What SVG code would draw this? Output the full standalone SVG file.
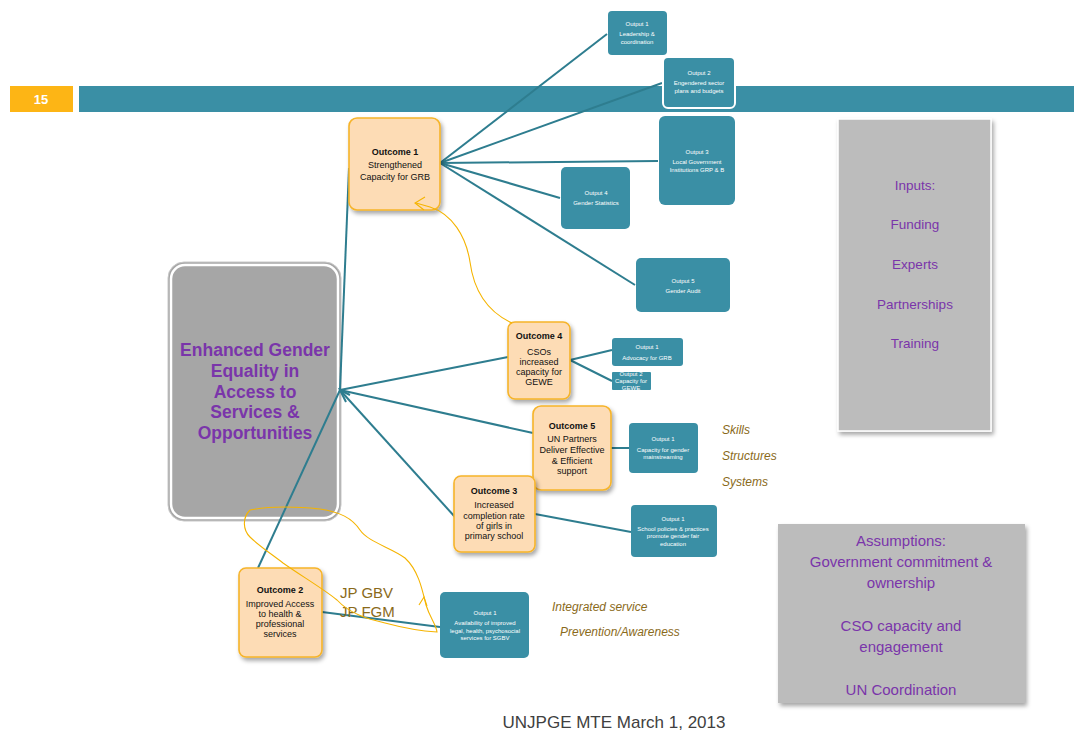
<svg xmlns="http://www.w3.org/2000/svg" width="1074" height="731" viewBox="0 0 1074 731">
<defs>
<filter id="sh" x="-20%" y="-20%" width="150%" height="150%">
<feDropShadow dx="2" dy="3" stdDeviation="2" flood-color="#000" flood-opacity="0.35"/>
</filter>
<style>
text{font-family:"Liberation Sans",Arial,sans-serif;}
.out{fill:#3a8fa5;}
.ot{fill:#ffffff;font-size:6px;text-anchor:middle;}
.oc{fill:#fddcb5;stroke:#f6b42a;stroke-width:1.6;filter:url(#sh);}
.oct{fill:#111;font-size:9px;text-anchor:middle;}
.b{font-weight:bold;}
.ln{stroke:#2e7d8f;stroke-width:2;fill:none;}
.hd{stroke:#f5b400;stroke-width:1.1;fill:none;}
.pur{fill:#7a35aa;text-anchor:middle;}
.ol{fill:#8a6a1a;font-style:italic;font-size:12px;}
</style>
</defs>
<rect width="1074" height="731" fill="#ffffff"/>
<g id="header">
<rect x="10" y="86" width="63" height="26" fill="#fdb515"/>
<text x="41" y="104" fill="#fff" font-size="13" font-weight="bold" text-anchor="middle">15</text>
<rect x="79" y="86" width="995" height="26" fill="#3a8fa5"/>
</g>
<g id="goal">
<rect x="168" y="262" width="173" height="259" rx="16" fill="#a6a6a6" stroke="#c8c8c8" stroke-width="1"/>
<rect x="171" y="265" width="167" height="253" rx="14" fill="#a6a6a6" stroke="#ffffff" stroke-width="2.5"/>
<g font-size="17.5" font-weight="bold">
<text class="pur" x="255" y="356">Enhanced Gender</text>
<text class="pur" x="255" y="377">Equality in</text>
<text class="pur" x="255" y="398">Access to</text>
<text class="pur" x="255" y="418">Services &amp;</text>
<text class="pur" x="255" y="439">Opportunities</text></g>
</g>
<g id="connectors">
<line class="ln" x1="440" y1="163" x2="607" y2="34"/>
<line class="ln" x1="440" y1="163" x2="662" y2="83"/>
<line class="ln" x1="440" y1="163" x2="658" y2="161"/>
<line class="ln" x1="440" y1="163" x2="560" y2="198"/>
<line class="ln" x1="440" y1="163" x2="635" y2="285"/>
<line class="ln" x1="340" y1="390" x2="349" y2="168"/>
<line class="ln" x1="508" y1="357" x2="340" y2="390"/>
<line class="ln" x1="533" y1="433" x2="340" y2="390"/>
<line class="ln" x1="455" y1="517" x2="340" y2="390"/>
<line class="ln" x1="258" y1="568" x2="340" y2="390"/>
<polyline class="ln" points="350,395 340,390 346,402"/>
<line class="ln" x1="570" y1="360" x2="612" y2="350"/>
<line class="ln" x1="570" y1="360" x2="612" y2="381"/>
<line class="ln" x1="611" y1="448" x2="629" y2="448"/>
<line class="ln" x1="535" y1="514" x2="631" y2="532"/>
<line class="ln" x1="322" y1="612" x2="440" y2="627"/>
</g>
<g id="outcome1"><rect class="oc" x="349" y="118" width="91" height="92" rx="8"/>
<text class="oct b" x="395" y="155">Outcome 1</text>
<text class="oct" x="395" y="168">Strengthened</text>
<text class="oct" x="395" y="180">Capacity for GRB</text></g>
<g id="o1out1"><rect class="out" x="608" y="11" width="59" height="44" rx="4"/>
<text class="ot" x="637" y="26">Output 1</text><text class="ot" x="637" y="36">Leadership &amp;</text><text class="ot" x="637" y="44">coordination</text></g>
<g id="o1out2"><rect class="out" x="663" y="57" width="72" height="51" rx="5" stroke="#fff" stroke-width="2"/>
<text class="ot" x="699" y="75">Output 2</text><text class="ot" x="699" y="85">Engendered sector</text><text class="ot" x="699" y="93">plans and budgets</text></g>
<g id="o1out3"><rect class="out" x="659" y="116" width="76" height="89" rx="6"/>
<text class="ot" x="697" y="154">Output 3</text><text class="ot" x="697" y="164">Local Government</text><text class="ot" x="697" y="172">Institutions GRP &amp; B</text></g>
<g id="o1out4"><rect class="out" x="561" y="167" width="69" height="62" rx="5"/>
<text class="ot" x="596" y="195">Output 4</text><text class="ot" x="596" y="205">Gender Statistics</text></g>
<g id="o1out5"><rect class="out" x="636" y="258" width="94" height="54" rx="5"/>
<text class="ot" x="683" y="283">Output 5</text><text class="ot" x="683" y="293">Gender Audit</text></g>
<g id="outcome4"><rect class="oc" x="508" y="322" width="62" height="77" rx="7"/>
<text class="oct b" x="539" y="339">Outcome 4</text>
<text class="oct" x="539" y="355">CSOs</text><text class="oct" x="539" y="365">increased</text><text class="oct" x="539" y="375">capacity for</text><text class="oct" x="539" y="385">GEWE</text></g>
<g id="o4out1"><rect class="out" x="612" y="338" width="71" height="28" rx="3"/>
<text class="ot" x="647" y="349">Output  1</text><text class="ot" x="647" y="360">Advocacy for GRB</text></g>
<g id="o4out2"><rect class="out" x="612" y="372" width="39" height="18" rx="1"/>
<text class="ot" x="631" y="376">Output 2</text><text class="ot" x="631" y="383">Capacity for</text><text class="ot" x="631" y="390">GEWE</text></g>
<g id="outcome5"><rect class="oc" x="533" y="406" width="78" height="84" rx="8"/>
<text class="oct b" x="572" y="429">Outcome 5</text>
<text class="oct" x="572" y="442">UN Partners</text><text class="oct" x="572" y="453">Deliver Effective</text><text class="oct" x="572" y="464">&amp; Efficient</text><text class="oct" x="572" y="474">support</text></g>
<g id="o5out1"><rect class="out" x="629" y="423" width="69" height="50" rx="4"/>
<text class="ot" x="663" y="441">Output 1</text><text class="ot" x="663" y="452">Capacity for gender</text><text class="ot" x="663" y="459">mainstreaming</text></g>
<g id="outcome3"><rect class="oc" x="454" y="476" width="81" height="76" rx="7"/>
<text class="oct b" x="494" y="494">Outcome 3</text>
<text class="oct" x="494" y="508">Increased</text><text class="oct" x="494" y="519">completion rate</text><text class="oct" x="494" y="529">of girls in</text><text class="oct" x="494" y="539">primary school</text></g>
<g id="o3out1"><rect class="out" x="631" y="505" width="86" height="52" rx="4"/>
<text class="ot" x="673" y="521">Output 1</text><text class="ot" x="673" y="531">School policies &amp; practices</text><text class="ot" x="673" y="538">promote gender fair</text><text class="ot" x="673" y="546">education</text></g>
<g id="outcome2"><rect class="oc" x="239" y="568" width="83" height="89" rx="7"/>
<text class="oct b" x="280" y="593">Outcome 2</text>
<text class="oct" x="280" y="607">Improved Access</text><text class="oct" x="280" y="617">to health &amp;</text><text class="oct" x="280" y="627">professional</text><text class="oct" x="280" y="637">services</text></g>
<g id="o2out1"><rect class="out" x="440" y="592" width="89" height="66" rx="5"/>
<text class="ot" x="485" y="615">Output 1</text><text class="ot" x="485" y="625">Availability of  improved</text><text class="ot" x="485" y="633">legal, health, psychosocial</text><text class="ot" x="485" y="640">services for SGBV</text></g>
<g id="labels">
<text x="340" y="598" fill="#8a6a1a" font-size="15">JP GBV</text>
<text x="340" y="617" fill="#8a6a1a" font-size="15">JP FGM</text>
<text class="ol" x="552" y="611" font-size="11">Integrated service</text>
<text class="ol" x="560" y="636" font-size="11">Prevention/Awareness</text>
<text class="ol" x="722" y="434">Skills</text>
<text class="ol" x="722" y="460">Structures</text>
<text class="ol" x="722" y="486">Systems</text>
</g>
<g id="inputs"><rect x="838" y="119" width="153" height="312" fill="#bcbcbc" stroke="#fff" stroke-width="1.5" filter="url(#sh)"/>
<g font-size="13.5"><text class="pur" x="915" y="190">Inputs:</text><text class="pur" x="915" y="229">Funding</text><text class="pur" x="915" y="269">Experts</text><text class="pur" x="915" y="309">Partnerships</text><text class="pur" x="915" y="348">Training</text></g></g>
<g id="assumptions"><rect x="778" y="524" width="247" height="179" fill="#bcbcbc" filter="url(#sh)"/>
<g font-size="15"><text class="pur" x="901" y="546">Assumptions:</text><text class="pur" x="901" y="567">Government commitment &amp;</text><text class="pur" x="901" y="588">ownership</text><text class="pur" x="901" y="631">CSO capacity and</text><text class="pur" x="901" y="652">engagement</text><text class="pur" x="901" y="695">UN Coordination</text></g></g>
<g id="annotations">
<path class="hd" d="M512,323 C488,312 474,292 470,262 C466,236 452,214 430,207 L416,203"/>
<polyline class="hd" points="425,197 415,203 424,210"/>
<path class="hd" d="M250,510 C265,507 290,506 320,509 C340,512 352,518 360,530 C368,542 392,548 405,558 C418,570 422,588 426,605 C430,618 436,624 437,632 C420,631 400,627 385,623 C368,619 350,614 337,600 C325,590 300,575 283,563 C270,553 258,545 250,537 C243,530 242,518 250,510"/>
<polyline class="hd" points="419,605 424,597 427,606"/>
</g>
<text x="614" y="728" fill="#404040" font-size="17" text-anchor="middle">UNJPGE MTE March 1, 2013</text>
</svg>
